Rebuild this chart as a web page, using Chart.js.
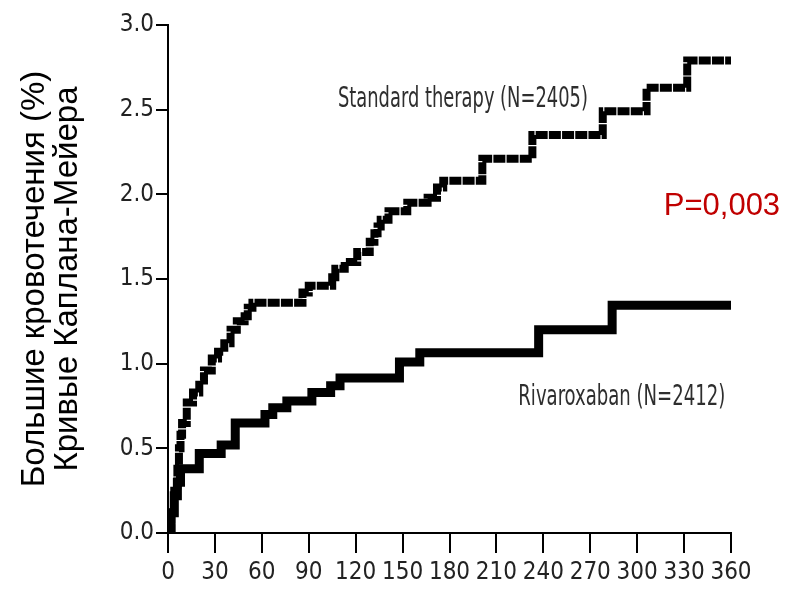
<!DOCTYPE html>
<html>
<head>
<meta charset="utf-8">
<script src="https://cdn.jsdelivr.net/npm/chart.js@4/dist/chart.umd.min.js"></script>
<style>
  html, body { margin: 0; padding: 0; background: #ffffff; }
  #wrap { width: 794px; height: 596px; }
</style>
</head>
<body>
<div id="wrap"><canvas id="c" width="794" height="596"></canvas></div>
<script>
// ---- Data (days since randomisation, cumulative major bleeding %) ----
const stdDays = [0, 2, 4, 6, 7, 8, 9, 12, 16, 20, 23, 28, 32, 36, 40, 44, 49, 51, 54, 86, 90, 105, 107, 113, 121, 129, 132, 134, 136, 141, 153, 166, 172, 176, 201, 233, 278, 306, 332, 360];
const stdPct  = [0, 0.12, 0.25, 0.38, 0.50, 0.58, 0.65, 0.77, 0.83, 0.90, 0.96, 1.03, 1.07, 1.12, 1.20, 1.25, 1.28, 1.33, 1.36, 1.42, 1.46, 1.51, 1.56, 1.60, 1.66, 1.72, 1.77, 1.81, 1.85, 1.90, 1.95, 1.98, 2.04, 2.08, 2.21, 2.35, 2.49, 2.63, 2.79, 2.79];

const rivDays = [0, 2, 4, 6, 8, 20, 34, 43, 62, 67, 76, 92, 104, 110, 148, 161, 237, 284, 360];
const rivPct  = [0, 0.12, 0.22, 0.30, 0.38, 0.47, 0.52, 0.65, 0.70, 0.74, 0.78, 0.83, 0.87, 0.915, 1.01, 1.065, 1.20, 1.345, 1.345];

const xTicks = [0, 30, 60, 90, 120, 150, 180, 210, 240, 270, 300, 330, 360];
const yTicks = [0, 0.5, 1.0, 1.5, 2.0, 2.5, 3.0];

const yTitle = ['Большие кровотечения (%)', 'Кривые Каплана-Мейера'];
const stdLabel = 'Standard therapy (N=2405)';
const rivLabel = 'Rivaroxaban (N=2412)';
const pLabel = 'P=0,003';

const toPoints = (xs, ys) => xs.map((x, i) => ({ x: x, y: ys[i] }));

const narrow = "'Liberation Sans Narrow', 'DejaVu Sans Condensed', 'Liberation Sans', sans-serif";

const annotations = {
  id: 'annotations',
  afterDraw(chart) {
    const { ctx, scales: { x, y } } = chart;
    const drawStretched = (text, dx, dy, width, stretch, color) => {
      ctx.save();
      ctx.font = '25px ' + narrow;
      const w = ctx.measureText(text).width;
      const size = 25 * width / w;
      ctx.font = size.toFixed(2) + 'px ' + narrow;
      ctx.fillStyle = color;
      ctx.textAlign = 'left';
      ctx.textBaseline = 'middle';
      ctx.translate(x.getPixelForValue(dx), y.getPixelForValue(dy));
      ctx.scale(1, stretch);
      ctx.fillText(text, 0, 0);
      ctx.restore();
    };
    drawStretched(stdLabel, 108.7, 2.56, 250, 1.4, '#2e2e2e');
    drawStretched(rivLabel, 224, 0.80, 207, 1.4, '#2e2e2e');

    ctx.save();
    ctx.font = "31px 'Liberation Sans', Arial, sans-serif";
    ctx.fillStyle = '#C00000';
    ctx.textAlign = 'left';
    ctx.textBaseline = 'middle';
    ctx.fillText(pLabel, x.getPixelForValue(317), y.getPixelForValue(1.93));
    ctx.restore();
  }
};

new Chart(document.getElementById('c'), {
  type: 'scatter',
  data: {
    datasets: [
      {
        label: stdLabel,
        data: toPoints(stdDays, stdPct),
        showLine: true,
        stepped: true,
        borderColor: '#000000',
        borderWidth: 8,
        borderDash: [12, 1.2],
        borderCapStyle: 'butt',
        borderJoinStyle: 'miter',
        pointRadius: 0,
        fill: false
      },
      {
        label: rivLabel,
        data: toPoints(rivDays, rivPct),
        showLine: true,
        stepped: true,
        borderColor: '#000000',
        borderWidth: 9,
        borderCapStyle: 'butt',
        borderJoinStyle: 'miter',
        pointRadius: 0,
        fill: false
      }
    ]
  },
  options: {
    responsive: false,
    animation: false,
    events: [],
    layout: { padding: { top: 25, right: 63, left: 0, bottom: 0 } },
    plugins: {
      legend: { display: false },
      tooltip: { enabled: false }
    },
    scales: {
      x: {
        type: 'linear',
        min: 0,
        max: 360,
        afterBuildTicks(scale) { scale.ticks = xTicks.map(v => ({ value: v })); },
        afterFit(scale) { scale.height = 63; },
        border: { display: true, color: '#000000', width: 2 },
        grid: { display: true, drawOnChartArea: false, drawTicks: true, tickLength: 20, color: '#000000', lineWidth: 2 },
        ticks: {
          color: '#222222',
          padding: 5,
          maxRotation: 0,
          autoSkip: false,
          font: { family: narrow, size: 24 },
          callback: (v) => String(v)
        }
      },
      y: {
        type: 'linear',
        min: 0,
        max: 3,
        afterBuildTicks(scale) { scale.ticks = yTicks.map(v => ({ value: v })); },
        afterFit(scale) { scale.width = 168; },
        border: { display: true, color: '#000000', width: 2 },
        grid: { display: true, drawOnChartArea: false, drawTicks: true, tickLength: 12, color: '#000000', lineWidth: 2 },
        ticks: {
          color: '#222222',
          padding: 2,
          autoSkip: false,
          font: { family: narrow, size: 24 },
          callback: (v) => Number(v).toFixed(1)
        },
        title: {
          display: true,
          text: yTitle,
          color: '#000000',
          font: { family: "'Liberation Sans', Arial, sans-serif", size: 33, lineHeight: 1.0 },
          padding: { top: 18, bottom: 0 }
        }
      }
    }
  },
  plugins: [annotations]
});
</script>
</body>
</html>
